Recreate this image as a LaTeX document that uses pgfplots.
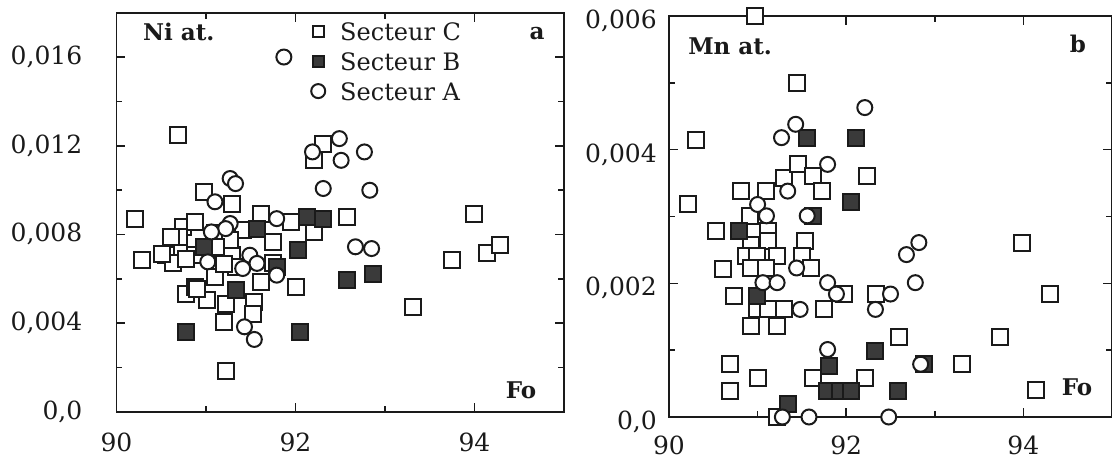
\documentclass[border=0pt]{standalone}
\usepackage{fontspec}
\setmainfont{DejaVu Serif}
\usepackage{pgfplots}
\pgfplotsset{compat=1.18}

\definecolor{ink}{HTML}{1A1A1A}
\definecolor{fillB}{HTML}{3A3A3A}

\pgfplotsset{
  panel/.style={
    scale only axis, xmin=90, xmax=95, clip=false,
    xtick={90,92,94}, xticklabels={90,92,94}, minor xtick={91,93},
    xtick pos=both, ytick pos=both, tick align=inside,
    major tick length=9pt, minor tick length=6pt,
    every tick/.style={ink, line width=1.6pt},
    axis line style={ink, line width=1.8pt},
    scaled y ticks=false,
    tick label style={font=\fontsize{25}{30}\selectfont, inner sep=0pt, text=ink},
  },
  secC/.style={only marks, mark=square*, mark size=8pt,
    mark options={fill=white, draw=ink, line width=2pt}},
  secB/.style={only marks, mark=square*, mark size=8pt,
    mark options={fill=fillB, draw=ink, line width=2pt}},
  secA/.style={only marks, mark=*, mark size=7.5pt,
    mark options={fill=white, draw=ink, line width=2pt}},
}
\tikzset{lab/.style={font=\fontsize{23}{27}\selectfont\bfseries, text=ink, inner sep=0pt}}

\begin{document}
\begin{tikzpicture}
% panel a : Ni
\begin{axis}[panel,
    at={(116.5pt,-411.7pt)}, anchor=south west,
    width=447.5pt, height=399pt,
    ymin=0, ymax=0.018,
    ytick={0,0.004,0.008,0.012,0.016},
    yticklabels={{0,0},{0,004},{0,008},{0,012},{0,016}},
    minor ytick={0.002,0.006,0.010,0.014},
    yticklabel style={anchor=east, xshift=-34pt},
    xticklabel style={anchor=north, yshift=-21pt},
    legend entries={Secteur C, Secteur B, Secteur A},
    legend cell align=left,
    legend image code/.code={\draw[#1] plot coordinates {(6pt,0pt)};},
    legend style={draw=none, fill=none, at={(0.428,0.982)}, anchor=north west,
      font=\fontsize{24}{29}\selectfont, text=ink, row sep=12pt, column sep=15pt,
      nodes={inner sep=0pt, text height=18pt, text depth=0pt}},
  ]
  \addlegendimage{secC, mark size=5.5pt}
  \addlegendimage{secB, mark size=5.5pt}
  \addlegendimage{secA, mark size=7pt}

  \addplot[secC, forget plot] coordinates {
    (90.21,0.00871)(90.29,0.00684)(90.69,0.01247)(90.55,0.00706)(90.63,0.00669)
    (90.74,0.00834)(90.88,0.00856)(90.70,0.00786)(90.78,0.00533)(90.88,0.00563)
    (91.01,0.00503)(90.98,0.00992)(91.29,0.00939)(91.20,0.00406)(91.22,0.00488)
    (91.54,0.00496)(91.52,0.00443)(91.22,0.00185)(91.61,0.00894)(91.75,0.00766)
    (91.95,0.00856)(92.01,0.00563)(92.21,0.01134)(92.21,0.00811)(92.31,0.01209)
    (92.57,0.00879)(93.31,0.00473)(93.75,0.00684)(94.00,0.00894)(94.14,0.00714)
    (94.28,0.00751)(91.10,0.00804)(91.06,0.00736)(90.88,0.00706)(91.29,0.00706)
    (91.41,0.00819)(91.61,0.00586)(91.10,0.00608)(91.33,0.00654)(90.78,0.00691)
    (91.75,0.00669)(91.27,0.00774)(90.51,0.00712)(90.90,0.00555)(91.11,0.00742)
    (91.20,0.00668)(90.61,0.00787)
  };
  \addplot[secB, forget plot] coordinates {
    (90.78,0.00361)(90.98,0.00744)(91.33,0.00548)(91.57,0.00826)(91.79,0.00654)
    (92.03,0.00729)(92.05,0.00361)(92.13,0.00879)(92.31,0.00871)(92.57,0.00593)
    (92.87,0.00623)
  };
  \addplot[secA, forget plot] coordinates {
    (91.87,0.01600)(91.27,0.01052)(91.33,0.01029)(91.10,0.00947)(91.27,0.00849)
    (91.22,0.00826)(91.06,0.00811)(91.02,0.00676)(91.49,0.00706)(91.57,0.00669)
    (91.41,0.00646)(91.79,0.00871)(91.79,0.00616)(91.43,0.00383)(91.54,0.00326)
    (92.19,0.01172)(92.49,0.01232)(92.51,0.01134)(92.77,0.01172)(92.31,0.01007)
    (92.83,0.00999)(92.67,0.00744)(92.85,0.00736)
  };

  \node[lab, anchor=west] at (rel axis cs:0.059,0.952) {Ni at.};
  \node[lab] at (rel axis cs:0.94,0.949) {a};
  \node[lab] at (rel axis cs:0.904,0.054) {Fo};
\end{axis}

% panel b : Mn
\begin{axis}[panel,
    at={(669pt,-417pt)}, anchor=south west,
    width=443pt, height=401pt,
    ymin=0, ymax=0.006,
    ytick={0,0.002,0.004,0.006},
    yticklabels={{0,0},{0,002},{0,004},{0,006}},
    minor ytick={0.001,0.003,0.005},
    yticklabel style={anchor=east, xshift=-12pt, yshift=-5pt},
    xticklabel style={anchor=north, yshift=-19pt},
  ]
  \addplot[secC] coordinates {
    (90.97,0.00600)(91.45,0.00500)(90.30,0.00415)(90.21,0.00318)(90.53,0.00279)
    (90.61,0.00221)(90.73,0.00181)(90.69,0.00079)(90.69,0.00039)(91.00,0.00059)
    (90.93,0.00136)(91.22,0.00136)(90.81,0.00338)(91.10,0.00338)(90.91,0.00301)
    (91.12,0.00278)(90.93,0.00258)(91.12,0.00263)(90.87,0.00241)(90.99,0.00241)
    (91.22,0.00241)(90.93,0.00223)(91.10,0.00223)(91.30,0.00358)(91.46,0.00378)
    (91.62,0.00361)(91.73,0.00338)(91.54,0.00263)(91.50,0.00241)(91.60,0.00223)
    (90.99,0.00161)(91.12,0.00161)(91.30,0.00161)(91.75,0.00161)(91.97,0.00184)
    (92.23,0.00361)(92.34,0.00184)(92.60,0.00119)(93.31,0.00079)(93.74,0.00119)
    (93.98,0.00261)(94.30,0.00184)(94.14,0.00041)(91.62,0.00059)(92.21,0.00059)
    (91.22,0.00000)
  };
  \addplot[secB] coordinates {
    (91.56,0.00418)(92.11,0.00418)(92.05,0.00321)(91.62,0.00301)(90.79,0.00279)
    (90.99,0.00181)(91.34,0.00019)(91.81,0.00076)(91.78,0.00039)(91.93,0.00039)
    (92.05,0.00039)(92.33,0.00099)(92.58,0.00039)(92.88,0.00079)
  };
  \addplot[secA] coordinates {
    (92.21,0.00463)(91.43,0.00438)(91.27,0.00418)(91.79,0.00378)(91.34,0.00338)
    (91.00,0.00318)(91.10,0.00301)(91.56,0.00301)(91.44,0.00223)(91.06,0.00201)
    (91.22,0.00201)(91.79,0.00201)(91.89,0.00184)(91.48,0.00161)(92.33,0.00161)
    (92.50,0.00184)(92.68,0.00243)(92.82,0.00261)(92.78,0.00201)(91.79,0.00101)
    (92.84,0.00079)(91.28,0.00000)(91.58,0.00000)(92.48,0.00000)
  };

  \node[lab, anchor=west] at (rel axis cs:0.043,0.925) {Mn at.};
  \node[lab] at (rel axis cs:0.923,0.930) {b};
  \node[lab] at (rel axis cs:0.921,0.075) {Fo};
\end{axis}

\pgfresetboundingbox
\useasboundingbox (0pt,0pt) rectangle (1112pt,-459pt);
\end{tikzpicture}
\end{document}
